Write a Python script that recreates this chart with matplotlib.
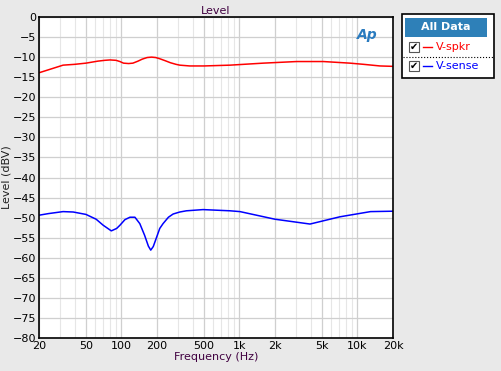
import numpy as np
import matplotlib.pyplot as plt
from matplotlib.patches import Rectangle
from matplotlib.ticker import FixedLocator, NullFormatter

# frequency response
f_spkr = [20, 25, 32, 40, 50, 63, 72, 80, 90, 97, 104, 115, 125, 138, 150, 165, 180, 195, 211,
          235, 260, 290, 312, 379, 500, 832, 1590, 3054, 5130, 8640, 11300, 15500, 20000]
v_spkr = [-13.9, -13.0, -12.0, -11.8, -11.5, -11.0, -10.8, -10.7, -10.8, -11.1, -11.5, -11.6,
          -11.5, -11.0, -10.5, -10.1, -10.0, -10.1, -10.4, -10.9, -11.4, -11.8, -12.0, -12.2,
          -12.2, -12.0, -11.5, -11.1, -11.1, -11.5, -11.8, -12.2, -12.3]

f_sense = [20, 24, 32, 39, 50, 61, 70, 82, 91, 97, 107, 118, 130, 143, 157, 169, 177, 186, 199,
           211, 225, 250, 274, 312, 355, 491, 832, 1010, 2000, 3960, 7080, 12900, 20000]
v_sense = [-49.4, -49.0, -48.5, -48.6, -49.2, -50.4, -51.9, -53.3, -52.7, -51.9, -50.5, -49.9,
           -49.9, -51.5, -54.4, -57.1, -58.1, -57.2, -54.8, -52.7, -51.5, -49.9, -49.1, -48.6,
           -48.3, -48.0, -48.3, -48.5, -50.4, -51.6, -49.8, -48.5, -48.4]

xticks = [20, 50, 100, 200, 500, 1000, 2000, 5000, 10000, 20000]
xlabels = ['20', '50', '100', '200', '500', '1k', '2k', '5k', '10k', '20k']
yticks = list(range(-80, 1, 5))

fig = plt.figure(figsize=(5.01, 3.71), dpi=100)
fig.patch.set_facecolor('#e9e9e9')

ax = fig.add_axes([39/501, 1-338/371, (393-39)/501, (338-17)/371])
ax.set_xscale('log')
ax.set_xlim(20, 20000)
ax.set_ylim(-80, 0)

minors = [m*d for d in (10, 100, 1000, 10000) for m in range(2, 10) if 20 <= m*d <= 20000]
ax.xaxis.set_minor_locator(FixedLocator(minors))
ax.xaxis.set_minor_formatter(NullFormatter())
ax.set_xticks(xticks)
ax.set_xticklabels(xlabels)
ax.set_yticks(yticks)
ax.grid(which='minor', axis='x', color='#e6e6e6', lw=0.8)
ax.grid(which='major', color='#cfcfcf', lw=0.9)
ax.set_axisbelow(True)
ax.tick_params(which='both', length=0, labelsize=8, pad=2)
for s in ax.spines.values():
    s.set_linewidth(1.2)

ax.plot(f_spkr, v_spkr, color='#ff0000', lw=1.1)
ax.plot(f_sense, v_sense, color='#0000ff', lw=1.1)

ax.set_title('Level', fontsize=8, color='#400040', pad=2)
ax.set_xlabel('Frequency (Hz)', fontsize=8, color='#400040', labelpad=1)
ax.set_ylabel('Level (dBV)', fontsize=8, color='#202020', labelpad=1)
ax.text(0.955, 0.965, 'Ap', transform=ax.transAxes, ha='right', va='top',
        fontsize=10, fontstyle='italic', fontweight='bold', color='#2a7bbf')

# legend panel
fig.patches.append(Rectangle((402/501, 1-78/371), 92/501, 64/371, transform=fig.transFigure,
                             facecolor='white', edgecolor='black', lw=1.2))
fig.patches.append(Rectangle((405/501, 1-37/371), 82/501, 19/371, transform=fig.transFigure,
                             facecolor='#2e80b8', edgecolor='none'))
fig.text(446/501, 1-27.5/371, 'All Data', ha='center', va='center', fontsize=8,
         fontweight='bold', color='white')
fig.add_artist(plt.Line2D([403/501, 493/501], [1-57/371, 1-57/371], color='black', lw=0.8, ls=':'))
for yy, name, c in [(47, 'V-spkr', '#ff0000'), (66, 'V-sense', '#0000ff')]:
    fig.patches.append(Rectangle((409/501, 1-(yy+5)/371), 10/501, 10/371, transform=fig.transFigure,
                                 facecolor='white', edgecolor='#555555', lw=0.8))
    fig.text(414/501, 1-yy/371, '\u2714', ha='center', va='center', fontsize=7, color='black')
    fig.add_artist(plt.Line2D([423/501, 432/501], [1-yy/371, 1-yy/371], color=c, lw=1))
    fig.text(436/501, 1-yy/371, name, ha='left', va='center', fontsize=8, color=c)

fig.savefig('out.png', dpi=100, facecolor=fig.get_facecolor())
